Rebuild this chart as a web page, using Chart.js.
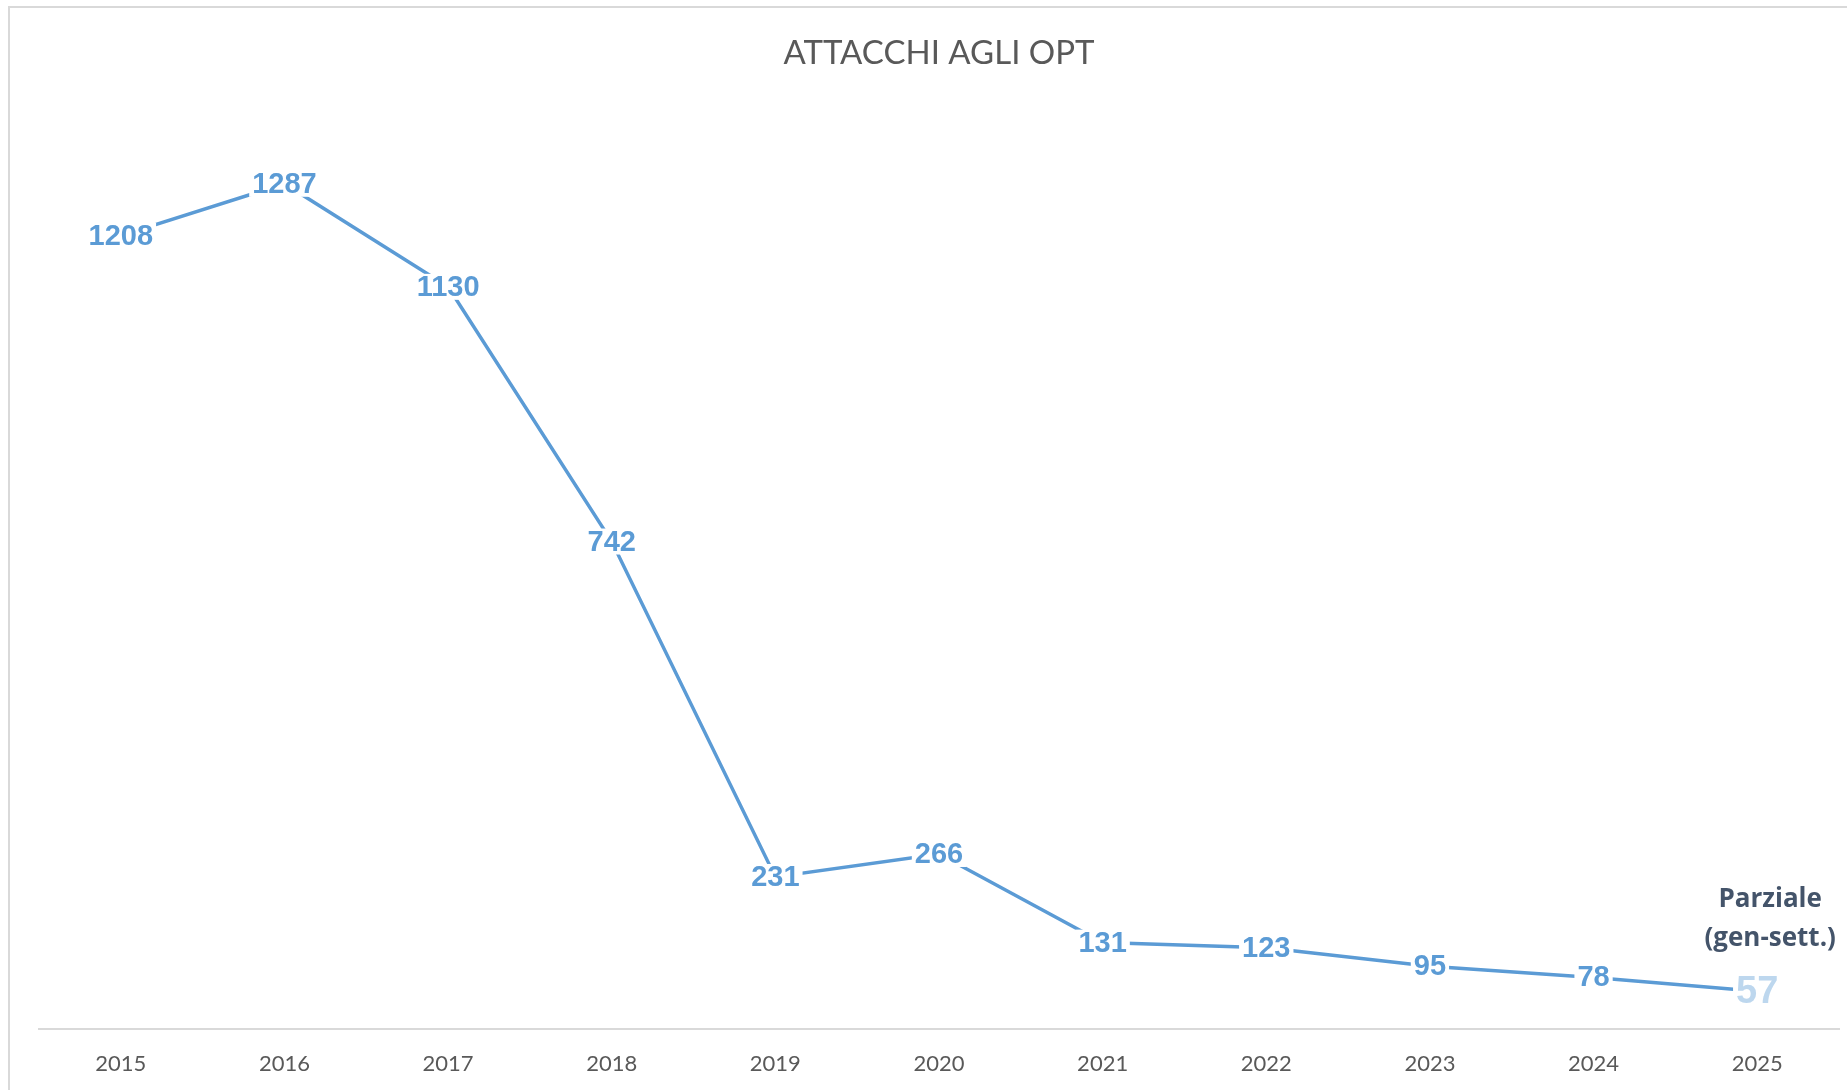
<!DOCTYPE html>
<html>
<head>
<meta charset="utf-8">
<script src="https://cdn.jsdelivr.net/npm/chart.js@4.4.1/dist/chart.umd.min.js"></script>
<style>
  html, body { margin: 0; padding: 0; background: #fff; overflow: hidden; }
  #frame { position: absolute; left: 8px; top: 6px; width: 1900px; height: 1200px;
    border-left: 2px solid #d9d9d9; border-top: 2px solid #d9d9d9; }
  #wrap { position: absolute; left: 0; top: 0; width: 1847px; height: 1111px; }
</style>
</head>
<body>
<div id="frame"></div>
<div id="wrap"><canvas id="optChart"></canvas></div>
<script>
// ── DATA ──
const YEARS = ['2015','2016','2017','2018','2019','2020','2021','2022','2023','2024','2025'];
const ATTACKS = [1208, 1287, 1130, 742, 231, 266, 131, 123, 95, 78, 57];
const NOTE_LINES = ['Parziale', '(gen-sett.)'];

const BLUE = '#5b9bd5';
const LIGHT_BLUE = '#bdd7ee';

// ── LABELS PLUGIN (excel-style centered labels with white fill) ──
const pointLabels = {
  id: 'pointLabels',
  afterDatasetsDraw(chart) {
    const ctx = chart.ctx;
    const meta = chart.getDatasetMeta(0);
    const last = meta.data.length - 1;
    ctx.save();
    ctx.textAlign = 'center';
    ctx.textBaseline = 'middle';
    meta.data.forEach((pt, i) => {
      const txt = String(ATTACKS[i]);
      const isLast = i === last;
      ctx.font = (isLast ? 'bold 38px' : 'bold 29px') + ' "Liberation Sans", Arial, sans-serif';
      const w = ctx.measureText(txt).width;
      const h = isLast ? 29 : 22;
      ctx.fillStyle = '#fff';
      ctx.fillRect(pt.x - w / 2 - 3, pt.y - h / 2 - 2, w + 6, h + 4);
      ctx.fillStyle = isLast ? LIGHT_BLUE : BLUE;
      ctx.fillText(txt, pt.x, pt.y + 1);
      if (isLast) {
        ctx.font = 'bold 26px "Open Sans", sans-serif';
        ctx.fillStyle = '#44546a';
        ctx.fillText(NOTE_LINES[0], pt.x + 13, pt.y - 92);
        ctx.fillText(NOTE_LINES[1], pt.x + 13, pt.y - 53);
      }
    });
    ctx.restore();
  }
};

new Chart(document.getElementById('optChart'), {
  type: 'line',
  data: {
    labels: YEARS,
    datasets: [{ data: ATTACKS, borderColor: BLUE, borderWidth: 3.5,
      pointRadius: 0, tension: 0, fill: false }]
  },
  options: { responsive: true, maintainAspectRatio: false, animation: false,
    layout: { padding: { left: 39, right: 8, top: 0, bottom: 12 } },
    plugins: { legend: { display: false }, tooltip: { enabled: false },
      title: { display: true, text: 'ATTACCHI AGLI OPT', color: '#595959',
        font: { family: 'Lato', size: 33, weight: 'normal' }, padding: { top: 34, bottom: 36 } } },
    scales: {
      x: { offset: true, grid: { display: false, drawTicks: false },
        border: { color: '#d9d9d9', width: 2 },
        ticks: { color: '#595959', padding: 22, font: { family: 'Lato', size: 22 } } },
      y: { display: false, min: 0, max: 1400 }
    } },
  plugins: [pointLabels]
});
</script>
</body>
</html>
